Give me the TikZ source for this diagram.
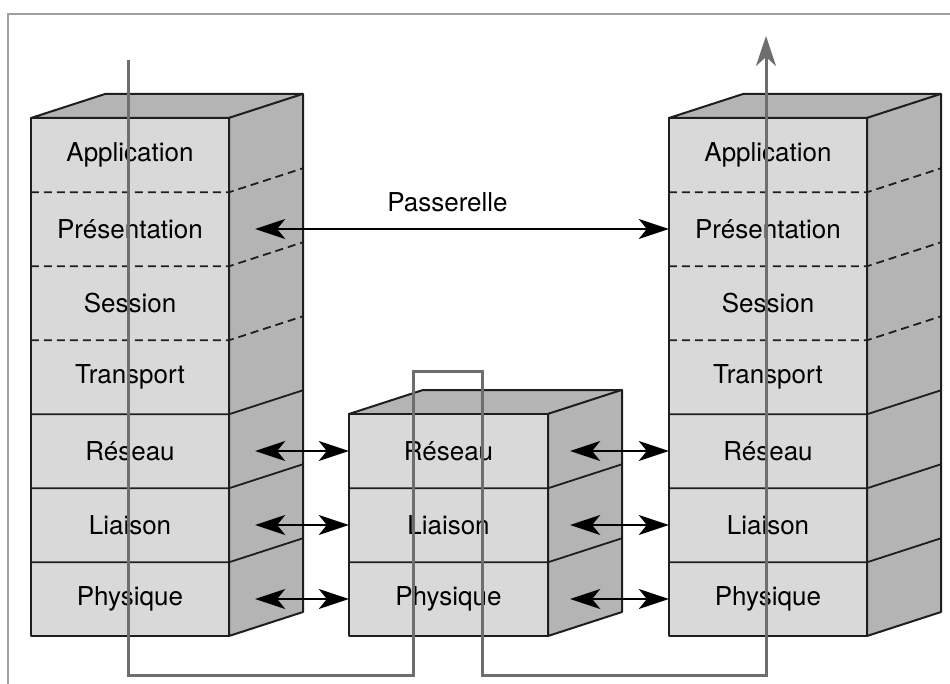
\documentclass[tikz,border=0pt]{standalone}
\usepackage{fontspec}
\setmainfont{TeX Gyre Heros}
\usetikzlibrary{arrows.meta,calc}
\definecolor{facefront}{HTML}{D9D9D9}
\definecolor{faceside}{HTML}{B4B4B4}
\definecolor{edgecol}{HTML}{1E1E1E}
\definecolor{routecol}{HTML}{6E6E6E}
\definecolor{framecol}{HTML}{A0A0A0}
\tikzset{
  layer/.style={fill=facefront, minimum width=198pt, minimum height=74pt,
    inner sep=0pt, font=\fontsize{26}{31}\selectfont},
  outline/.style={draw=edgecol, line width=2pt, line join=round},
  sideface/.style={outline, fill=faceside},
  divide/.style={draw=edgecol, line width=1.8pt},
  softdivide/.style={divide, dash pattern=on 8pt off 5pt},
  link/.style={draw=black, line width=2.3pt,
    {Stealth[length=30pt,width=20pt,inset=8pt]}-{Stealth[length=30pt,width=20pt,inset=8pt]}},
  routeline/.style={draw=routecol, line width=3pt, line join=miter},
  tag/.style={font=\fontsize{26}{31}\selectfont},
}
\begin{document}
\begin{tikzpicture}[x=1pt,y=-1pt]
\useasboundingbox (0,0) rectangle (950,684);
% page frame
\draw[framecol, line width=1.6pt] (8,700) -- (8,14) -- (960,14);

% ---------- left stack ----------
\draw[sideface] (31,118) -- ++(74,-24) -- ++(198,0) -- ++(0,518) -- ++(-74,24) -- (229,118) -- cycle;
\node[layer] (L1) at (130,155) {Application};
\node[layer] (L2) at (130,229) {Présentation};
\node[layer] (L3) at (130,303) {Session};
\node[layer] (L4) at (130,377) {Transport};
\node[layer] (L5) at (130,451) {Réseau};
\node[layer] (L6) at (130,525) {Liaison};
\node[layer] (L7) at (130,599) {Physique};
\draw[outline] (L1.north west) rectangle (L7.south east);
\draw[outline] (L1.north east) -- ++(74,-24);
\foreach \n in {1,2,3}{
  \draw[softdivide] (L\n.south west) -- (L\n.south east) -- ++(74,-24);}
\foreach \n in {4,5,6}{
  \draw[divide] (L\n.south west) -- (L\n.south east) -- ++(74,-24);}

% ---------- middle stack (router) ----------
\draw[sideface] (349,414) -- ++(74,-24) -- ++(199,0) -- ++(0,222) -- ++(-74,24) -- (548,414) -- cycle;
\node[layer, minimum width=199pt] (M1) at (448.5,451) {Réseau};
\node[layer, minimum width=199pt] (M2) at (448.5,525) {Liaison};
\node[layer, minimum width=199pt] (M3) at (448.5,599) {Physique};
\draw[outline] (M1.north west) rectangle (M3.south east);
\draw[outline] (M1.north east) -- ++(74,-24);
\foreach \n in {1,2}{
  \draw[divide] (M\n.south west) -- (M\n.south east) -- ++(74,-24);}

% ---------- right stack ----------
\draw[sideface] (669,118) -- ++(74,-24) -- ++(198,0) -- ++(0,518) -- ++(-74,24) -- (867,118) -- cycle;
\node[layer] (R1) at (768,155) {Application};
\node[layer] (R2) at (768,229) {Présentation};
\node[layer] (R3) at (768,303) {Session};
\node[layer] (R4) at (768,377) {Transport};
\node[layer] (R5) at (768,451) {Réseau};
\node[layer] (R6) at (768,525) {Liaison};
\node[layer] (R7) at (768,599) {Physique};
\draw[outline] (R1.north west) rectangle (R7.south east);
\draw[outline] (R1.north east) -- ++(74,-24);
\foreach \n in {1,2,3}{
  \draw[softdivide] (R\n.south west) -- (R\n.south east) -- ++(74,-24);}
\foreach \n in {4,5,6}{
  \draw[divide] (R\n.south west) -- (R\n.south east) -- ++(74,-24);}

% ---------- data route ----------
\coordinate (src) at (128,60);
\coordinate (dst) at (766,36);
\coordinate (lowA) at (128,675);
\coordinate (lowB) at (413,675);
\coordinate (upA) at (413,371);
\coordinate (upB) at (482,371);
\coordinate (lowC) at (482,675);
\coordinate (lowD) at (766,675);
\draw[routeline, -{Stealth[length=30pt,width=20pt,inset=9pt]}]
  (src) -- (lowA) -- (lowB) -- (upA) -- (upB) -- (lowC) -- (lowD) -- (dst);

% ---------- peer links ----------
\node[tag] (gw) at (447.5,202) {Passerelle};
\draw[link] ([xshift=26pt]L2.east) -- (R2.west);
\draw[link] ([xshift=26pt]L5.east) -- (M1.west);
\draw[link] ([xshift=26pt]L6.east) -- (M2.west);
\draw[link] ([xshift=26pt]L7.east) -- (M3.west);
\draw[link] ([xshift=22pt]M1.east) -- (R5.west);
\draw[link] ([xshift=22pt]M2.east) -- (R6.west);
\draw[link] ([xshift=22pt]M3.east) -- (R7.west);
\end{tikzpicture}
\end{document}
